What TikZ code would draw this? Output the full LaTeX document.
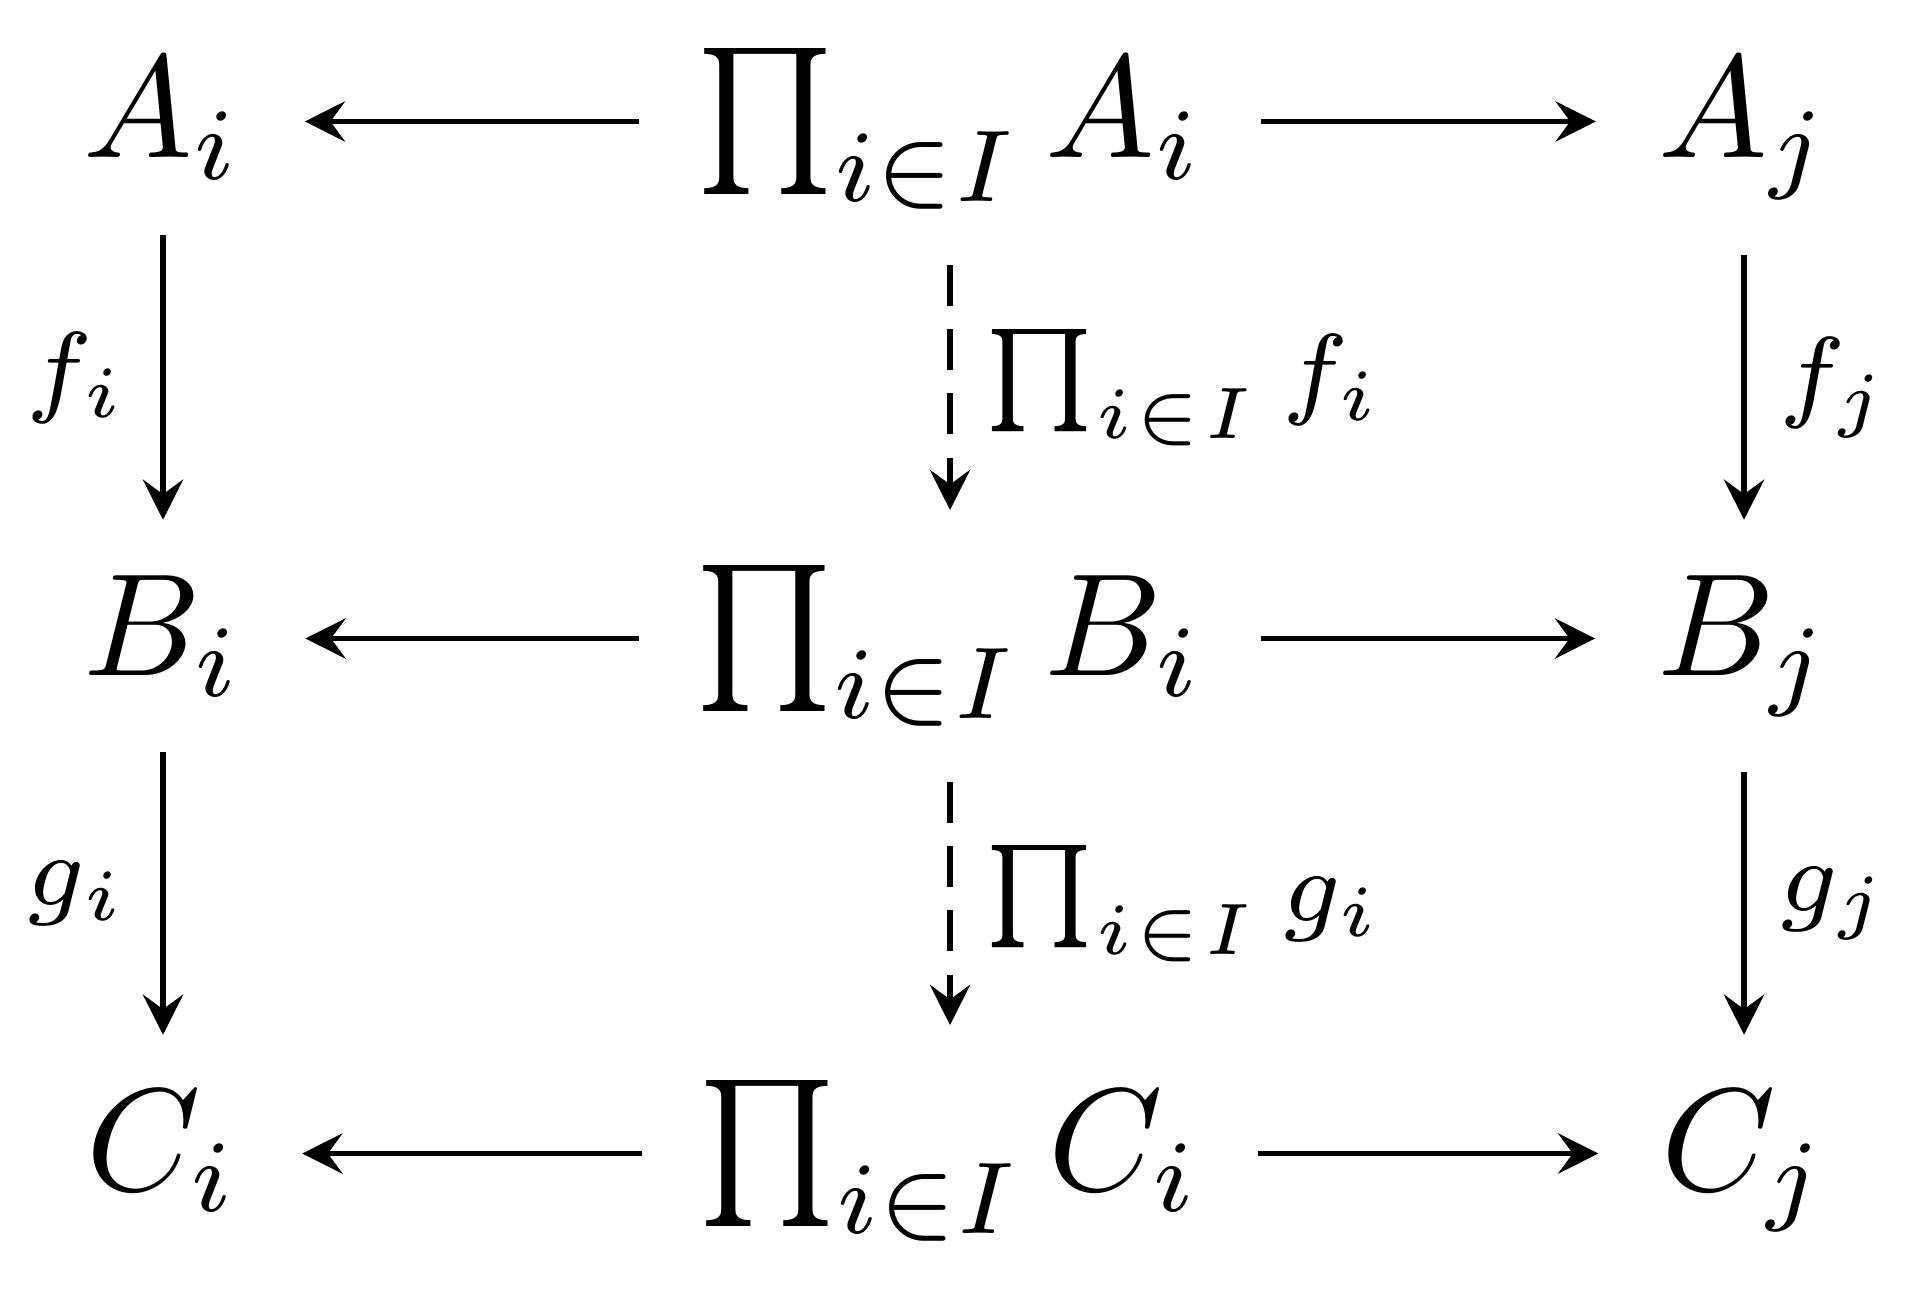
\documentclass[tikz,border=0pt]{standalone}
\usepackage{amsmath}
\usepackage{exscale}
\usetikzlibrary{cd,arrows.meta}
\begin{document}
\begin{tikzpicture}[x=0.068493pt, y=-0.068493pt,
  obj/.style={shape=asymmetrical rectangle, anchor=base, inner xsep=0.41em, inner ysep=0.36em},
  pobj/.style={obj, inner xsep=0.37em},
  mor/.style={draw, line width=0.4pt, -{Stealth[length=2.75pt, width=2.75pt, inset=1pt]}},
  dmor/.style={mor, dash pattern=on 2.8pt off 1.6pt},
  lbl/.style={inner sep=0.5ex}]
\useasboundingbox (0,0) rectangle (1914,1290);
% objects
\node[obj] (A1) at (163,158) {$A_i$};
\node[pobj] (PA) at (950,158) {$\prod_{i\in I} A_i$};
\node[obj] (A2) at (1744,158) {$A_j$};
\node[obj] (B1) at (163,675) {$B_i$};
\node[pobj] (PB) at (950,675) {$\prod_{i\in I} B_i$};
\node[obj] (B2) at (1744,675) {$B_j$};
\node[obj] (C1) at (163,1190) {$C_i$};
\node[pobj] (PC) at (950,1190) {$\prod_{i\in I} C_i$};
\node[obj] (C2) at (1744,1190) {$C_j$};
% horizontal arrows
\draw[mor] (PA) -- (A1);
\draw[mor] (PA) -- (A2);
\draw[mor] (PB) -- (B1);
\draw[mor] (PB) -- (B2);
\draw[mor] (PC) -- (C1);
\draw[mor] (PC) -- (C2);
% vertical arrows
\draw[mor] (A1) -- node[midway, left, lbl] (lf1) {$\scriptstyle f_i$} (B1);
\draw[dmor] (PA) -- node[midway, right, lbl] (lpf) {$\scriptstyle \prod_{i\in I} f_i$} (PB);
\draw[mor] (A2) -- node[midway, right, lbl] (lf2) {$\scriptstyle f_j$} (B2);
\draw[mor] (B1) -- node[midway, left, lbl] (lg1) {$\scriptstyle g_i$} (C1);
\draw[dmor] (PB) -- node[midway, right, lbl] (lpg) {$\scriptstyle \prod_{i\in I} g_i$} (PC);
\draw[mor] (B2) -- node[midway, right, lbl] (lg2) {$\scriptstyle g_j$} (C2);
\end{tikzpicture}
\end{document}
